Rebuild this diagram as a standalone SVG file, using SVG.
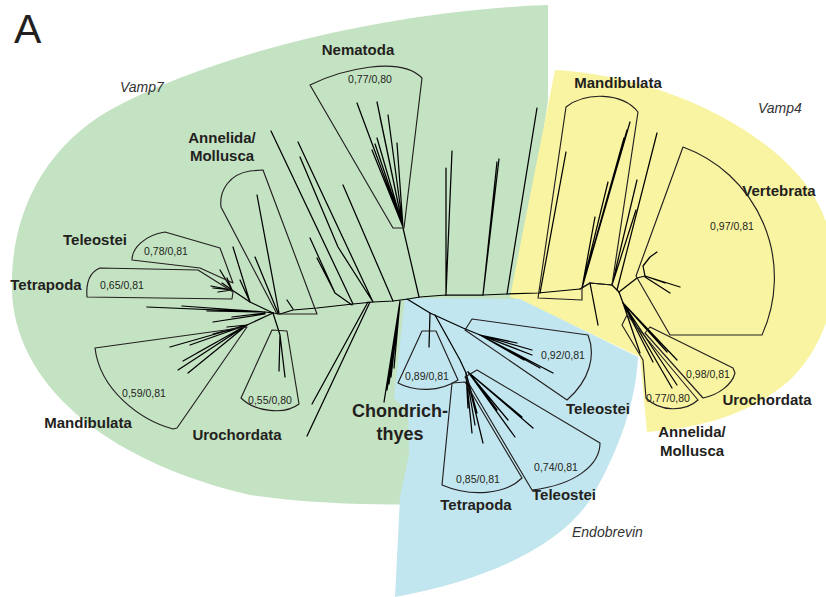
<svg xmlns="http://www.w3.org/2000/svg" width="826" height="597" viewBox="0 0 826 597">
  <style>
    .tree { fill: none; stroke: #000; stroke-width: 1.25; stroke-linecap: round; stroke-linejoin: round; }
    .clade { fill: none; stroke: #231f20; stroke-width: 1.15; stroke-linejoin: round; }
    .taxon { font-family: "Liberation Sans", Arial, sans-serif; font-weight: bold; font-size: 15px; fill: #231f20; text-anchor: middle; }
    .taxon.large { font-size: 18px; }
    .support { font-family: "Liberation Sans", Arial, sans-serif; font-size: 10.5px; fill: #231f20; text-anchor: middle; }
    .family { font-family: "Liberation Sans", Arial, sans-serif; font-style: italic; font-size: 14px; fill: #333; }
  </style>

  <rect width="826" height="597" fill="#fff"/>

  <!-- family backgrounds -->
  <g id="backgrounds">
    <path id="bg-vamp7" fill="#c4e3c3" d="M548,5 C400,10 220,50 110,110 C40,150 10,220 12,290 C14,380 100,460 250,495 C320,505 380,505 430,504 L520,297 L548,100 Z"/>
    <path id="bg-vamp4" fill="#f9f4a1" d="M555,70 C650,75 760,120 810,190 C850,250 840,330 790,380 C750,415 700,428 647,432 L640,357 L520,300 L510,297 Z"/>
    <path id="bg-endobrevin" fill="#c2e6ef" d="M405,298 L520,299 L638,357 C636,400 620,450 590,500 C560,545 490,580 395,597 L400,497 L409,455 L408,412 L394,398 Z"/>
  </g>

  <!-- panel letter -->
  <text x="14" y="43" font-family="Liberation Sans, Arial, sans-serif" font-size="41" fill="#231f20">A</text>

  <!-- tree branches -->
  <g id="tree" class="tree">
    <!-- backbone -->
    <path d="M265,312 L273,313 L280,314 L293,310 L317,308 L353,304 L373,302 L393,301 L408,299 L420,297 L446,295 L483,295 L507,294 L538,293 L580,289"/>

    <!-- Vamp7: Nematoda -->
    <path d="M419,297 L403,228"/>
    <path d="M403,227 L357,103 M403,227 L377,102 M403,227 L380,117 M403,227 L388,115 M403,227 L397,143 M403,227 L377,138 M403,227 L375,144 M403,227 L372,150"/>

    <!-- Vamp7: long singletons -->
    <path d="M446,295 L446,168 M446,295 L452,151"/>
    <path d="M483,295 L497,162 M483,295 L499,159"/>
    <path d="M507,294 L537,108"/>
    <path d="M393,301 L343,185"/>
    <path d="M373,302 L298,142 M373,302 L338,247 L300,157"/>
    <path d="M353,304 L271,131"/>
    <path d="M352,305 L335,293 L310,238 M335,293 L317,258"/>
    <path d="M293,309 L287,300"/>

    <!-- Vamp7: Annelida/Mollusca -->
    <path d="M273,313 L250,302 L233,247 M250,302 L240,280 M278,313 L255,257 M279,313 L257,195"/>

    <!-- Vamp7: Teleostei / Tetrapoda -->
    <path d="M250,302 L232,290"/>
    <path d="M232,290 L220,270 M232,290 L227,278 M232,290 L222,283 M232,290 L213,288 M232,290 L218,292 M232,290 L211,286"/>

    <!-- Vamp7: short branches towards the left -->
    <path d="M265,312 L147,307 M265,312 L182,306 M265,312 L207,311 M265,313 L232,317 M265,314 L213,322"/>

    <!-- Vamp7: Mandibulata -->
    <path d="M273,313 L247,325"/>
    <path d="M247,325 L170,347 M247,325 L190,345 M247,325 L178,370 M247,325 L188,373 M247,325 L213,334 M247,325 L197,353 M247,325 L227,327 M247,325 L183,361"/>

    <!-- Vamp7: Urochordata -->
    <path d="M273,313 L280,335 L279,371 M280,335 L285,377"/>

    <!-- Vamp7: lone branches -->
    <path d="M368,302 L312,404 M370,302 L307,436"/>

    <!-- Chondrichthyes -->
    <path d="M400,301 L384,402 M400,301 L387,390 M400,301 L389,384 M400,301 L391,377 M400,301 L394,368"/>

    <!-- Endobrevin -->
    <path d="M407,299 L430,313 L463,328 L480,335"/>
    <path d="M430,313 L429,347"/>
    <path d="M435,315 L460,360 L466,373"/>
    <path d="M480,335 L517,343 M480,335 L532,350 M480,335 L532,355 M480,335 L540,368 M480,335 L553,373 M480,335 L524,360"/>
    <path d="M466,373 L472,433 M466,373 L483,443 M466,373 L477,413 M466,373 L468,408 M466,373 L475,425"/>
    <path d="M468,372 L533,428 M468,372 L515,437 M468,372 L508,420 M468,372 L522,417 M468,372 L497,410"/>

    <!-- Vamp4 -->
    <path d="M540,293 L566,152"/>
    <path d="M582,288 L630,122 M582,288 L627,130 M582,288 L624,138 M582,288 L608,182 M582,288 L595,217"/>
    <path d="M580,289 L590,283 L612,285 L619,292"/>
    <path d="M612,285 L637,180 M612,285 L636,210"/>
    <path d="M617,290 L657,133"/>
    <path d="M590,283 L598,325"/>
    <path d="M619,292 L637,278 L645,276"/>
    <path d="M645,276 L643,266 L650,257 L657,252 M645,276 L680,287 M645,277 L670,293 M645,276 L665,283"/>
    <path d="M619,292 L623,303"/>
    <path d="M623,303 L640,353 M623,303 L653,362 M623,303 L677,385 M623,303 L672,388 M623,303 L677,360 M623,303 L667,352"/>
  </g>

  <!-- clade outlines -->
  <g id="clades" class="clade">
    <path id="clade-nematoda" d="M310,85 C340,70 400,55 422,78 L404,228 L393,228 Z"/>
    <path id="clade-annelida-v7" d="M221,207 C219,190 230,174 250,171 L263,170 L317,314 L277,314 Z"/>
    <path id="clade-teleostei-v7" d="M132,260 C132,248 145,235 165,232 L220,248 L233,283 L200,268 Z"/>
    <path id="clade-tetrapoda-v7" d="M87,297 C86,285 88,273 100,268 L198,270 L233,292 L232,299 Z"/>
    <path id="clade-mandibulata-v7" d="M95,348 L247,327 L177,428 L173,429 C140,420 100,390 95,348 Z"/>
    <path id="clade-urochordata-v7" d="M272,330 L287,331 L299,404 C285,415 255,412 241,398 Z"/>
    <path id="clade-mandibulata-v4" d="M566,107 C585,92 622,92 638,112 L612,285 L590,283 L582,288 L582,300 L538,298 Z"/>
    <path id="clade-vertebrata" d="M683,147 L636,276 L670,335 L762,335 A139,139 0 0,0 683,147 Z"/>
    <path id="clade-annelida-v4" d="M627,315 L622,325 L643,360 L646,398 C660,412 685,412 698,400 Z"/>
    <path id="clade-urochordata-v4" d="M645,333 L650,327 L733,368 L735,373 C732,385 718,395 703,398 Z"/>
    <path id="clade-chondrichthyes" d="M422,331 L436,331 L458,380 C440,392 415,392 398,383 Z"/>
    <path id="clade-teleostei-e1" d="M465,330 L472,319 L588,335 C596,355 590,380 567,400 Z"/>
    <path id="clade-tetrapoda-e" d="M442,485 L452,383 L465,382 L522,478 C505,495 470,497 442,485 Z"/>
    <path id="clade-teleostei-e2" d="M465,377 L477,370 L600,443 C600,465 575,485 532,490 Z"/>
  </g>

  <!-- support values -->
  <g id="support">
    <text class="support" x="370" y="83">0,77/0,80</text>
    <text class="support" x="166" y="255">0,78/0,81</text>
    <text class="support" x="122" y="289">0,65/0,81</text>
    <text class="support" x="144" y="397">0,59/0,81</text>
    <text class="support" x="270" y="404">0,55/0,80</text>
    <text class="support" x="732" y="230">0,97/0,81</text>
    <text class="support" x="668" y="402">0,77/0,80</text>
    <text class="support" x="708" y="378">0,98/0,81</text>
    <text class="support" x="427" y="380">0,89/0,81</text>
    <text class="support" x="563" y="359">0,92/0,81</text>
    <text class="support" x="478" y="483">0,85/0,81</text>
    <text class="support" x="556" y="471">0,74/0,81</text>
  </g>

  <!-- taxon labels -->
  <g id="taxa">
    <text class="taxon" x="358" y="55">Nematoda</text>
    <text class="taxon" x="222" y="143">Annelida/</text>
    <text class="taxon" x="222" y="161">Mollusca</text>
    <text class="taxon" x="95" y="245">Teleostei</text>
    <text class="taxon" x="46" y="290">Tetrapoda</text>
    <text class="taxon" x="88" y="428">Mandibulata</text>
    <text class="taxon" x="237" y="440">Urochordata</text>
    <text class="taxon large" x="400" y="417">Chondrich-</text>
    <text class="taxon large" x="400" y="440">thyes</text>
    <text class="taxon" x="618" y="88">Mandibulata</text>
    <text class="taxon" x="779" y="196">Vertebrata</text>
    <text class="taxon" x="598" y="414">Teleostei</text>
    <text class="taxon" x="564" y="500">Teleostei</text>
    <text class="taxon" x="476" y="510">Tetrapoda</text>
    <text class="taxon" x="767" y="405">Urochordata</text>
    <text class="taxon" x="692" y="437">Annelida/</text>
    <text class="taxon" x="692" y="456">Mollusca</text>
  </g>

  <!-- family names -->
  <g id="families">
    <text class="family" x="120" y="92">Vamp7</text>
    <text class="family" x="758" y="113">Vamp4</text>
    <text class="family" x="572" y="537">Endobrevin</text>
  </g>
</svg>
